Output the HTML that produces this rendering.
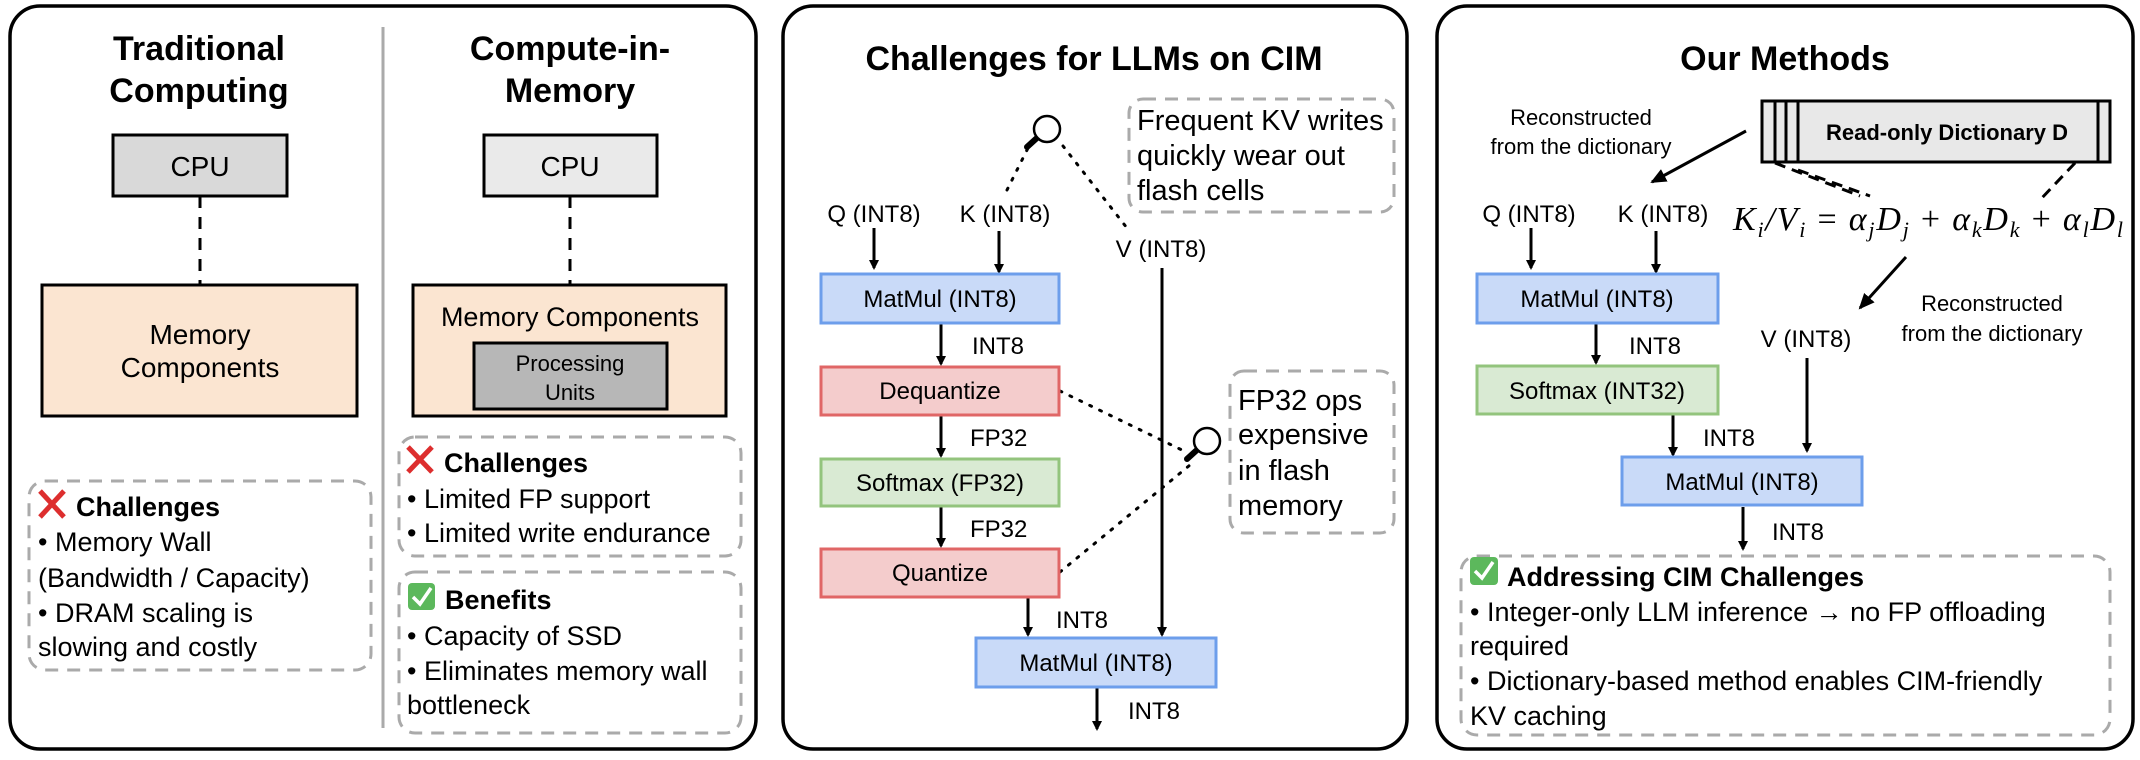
<!DOCTYPE html>
<html><head><meta charset="utf-8"><style>
html,body{margin:0;padding:0;background:#fff;}
svg{display:block;}
text{font-family:"Liberation Sans",Arial,sans-serif;fill:#000;}
.b{font-weight:bold;}
</style></head><body>
<svg width="2140" height="760" viewBox="0 0 2140 760" xmlns="http://www.w3.org/2000/svg">
<defs>
<marker id="ah" markerWidth="10" markerHeight="10" refX="8" refY="5" orient="auto" markerUnits="userSpaceOnUse">
<path d="M0,0 L10,5 L0,10 Z" fill="#000"/></marker>
<marker id="ah2" markerWidth="16" markerHeight="14" refX="14" refY="7" orient="auto" markerUnits="userSpaceOnUse">
<path d="M0,0 L16,7 L0,14 Z" fill="#000"/></marker>
</defs>
<g fill="none" stroke="#000" stroke-width="3.5">
<rect x="10" y="6" width="746" height="743" rx="30"/>
<rect x="783" y="6" width="624" height="743" rx="30"/>
<rect x="1437" y="6" width="696" height="743" rx="30"/>
</g>

<!-- Panel 1 -->
<text class="b" x="199" y="60" font-size="34" text-anchor="middle">Traditional</text>
<text class="b" x="199" y="102" font-size="34" text-anchor="middle">Computing</text>
<text class="b" x="570" y="60" font-size="34" text-anchor="middle">Compute-in-</text>
<text class="b" x="570" y="102" font-size="34" text-anchor="middle">Memory</text>
<line x1="383" y1="27" x2="383" y2="728" stroke="#aaa" stroke-width="3"/>

<rect x="113" y="135" width="174" height="61" fill="#d9d9d9" stroke="#000" stroke-width="3"/>
<text x="200" y="176" font-size="28" text-anchor="middle">CPU</text>
<line x1="200" y1="196" x2="200" y2="285" stroke="#000" stroke-width="3" stroke-dasharray="12,9"/>
<rect x="42" y="285" width="315" height="131" fill="#fbe5d1" stroke="#000" stroke-width="3"/>
<text x="200" y="344" font-size="28" text-anchor="middle">Memory</text>
<text x="200" y="377" font-size="28" text-anchor="middle">Components</text>

<rect x="484" y="135" width="173" height="61" fill="#eaeaea" stroke="#000" stroke-width="3"/>
<text x="570" y="176" font-size="28" text-anchor="middle">CPU</text>
<line x1="570" y1="196" x2="570" y2="285" stroke="#000" stroke-width="3" stroke-dasharray="12,9"/>
<rect x="413" y="285" width="313" height="131" fill="#fbe5d1" stroke="#000" stroke-width="3"/>
<text x="570" y="326" font-size="27" text-anchor="middle">Memory Components</text>
<rect x="474" y="343" width="193" height="66" fill="#b7b7b7" stroke="#000" stroke-width="3"/>
<text x="570" y="371" font-size="22" text-anchor="middle">Processing</text>
<text x="570" y="400" font-size="22" text-anchor="middle">Units</text>

<g fill="none" stroke="#aaa" stroke-width="3" stroke-dasharray="13,9">
<rect x="29" y="481" width="342" height="189" rx="16"/>
<rect x="399" y="437" width="342" height="119" rx="16"/>
<rect x="399" y="572" width="342" height="161" rx="16"/>
<rect x="1461" y="556" width="649" height="179" rx="16"/>
<rect x="1129" y="99" width="265" height="113" rx="14"/>
<rect x="1230" y="371" width="164" height="162" rx="14"/>
</g>

<!-- red X -->
<g stroke="#dd2e2e" stroke-width="5" stroke-linecap="butt">
<line x1="40" y1="491" x2="64" y2="517"/><line x1="64" y1="491" x2="40" y2="517"/>
<line x1="408" y1="447" x2="432" y2="472"/><line x1="432" y1="447" x2="408" y2="472"/>
</g>
<text class="b" x="76" y="516" font-size="27">Challenges</text>
<text x="38" y="551" font-size="27">• Memory Wall</text>
<text x="38" y="587" font-size="27">(Bandwidth / Capacity)</text>
<text x="38" y="622" font-size="27">• DRAM scaling is</text>
<text x="38" y="656" font-size="27">slowing and costly</text>

<text class="b" x="444" y="472" font-size="27">Challenges</text>
<text x="407" y="508" font-size="27">• Limited FP support</text>
<text x="407" y="542" font-size="27">• Limited write endurance</text>

<rect x="408" y="583" width="27" height="27" rx="4" fill="#5cb85c"/>
<path d="M413,597 L420,604 L431,588" fill="none" stroke="#fff" stroke-width="3.5"/>
<text class="b" x="445" y="609" font-size="27">Benefits</text>
<text x="407" y="645" font-size="27">• Capacity of SSD</text>
<text x="407" y="680" font-size="27">• Eliminates memory wall</text>
<text x="407" y="714" font-size="27">bottleneck</text>

<!-- Panel 2 -->
<text class="b" x="1094" y="70" font-size="34" text-anchor="middle">Challenges for LLMs on CIM</text>
<text x="1137" y="130" font-size="29">Frequent KV writes</text>
<text x="1137" y="165" font-size="29">quickly wear out</text>
<text x="1137" y="200" font-size="29">flash cells</text>
<text x="1238" y="410" font-size="29">FP32 ops</text>
<text x="1238" y="444" font-size="29">expensive</text>
<text x="1238" y="480" font-size="29">in flash</text>
<text x="1238" y="515" font-size="29">memory</text>

<g fill="none" stroke="#000" stroke-width="3" stroke-dasharray="2,9" stroke-linecap="round">
<line x1="1007" y1="190" x2="1028" y2="148"/>
<line x1="1063" y1="146" x2="1127" y2="228"/>
<line x1="1060" y1="391" x2="1186" y2="452"/>
<line x1="1060" y1="572" x2="1190" y2="465"/>
</g>
<!-- magnifiers -->
<g stroke="#000" stroke-linecap="round">
<line x1="1038" y1="137" x2="1027" y2="147" stroke-width="6"/>
<line x1="1198" y1="449" x2="1187" y2="459" stroke-width="6"/>
</g>
<g fill="#fff" stroke="#000" stroke-width="2.5">
<circle cx="1047" cy="129" r="13"/>
<circle cx="1207" cy="441" r="13"/>
</g>

<g font-size="24" text-anchor="middle">
<text x="874" y="222">Q (INT8)</text>
<text x="1005" y="222">K (INT8)</text>
<text x="1161" y="257">V (INT8)</text>
</g>
<g stroke="#000" stroke-width="3" marker-end="url(#ah)">
<line x1="874" y1="228" x2="874" y2="268"/>
<line x1="999" y1="231" x2="999" y2="272"/>
<line x1="941" y1="323" x2="941" y2="364"/>
<line x1="941" y1="415" x2="941" y2="456"/>
<line x1="941" y1="506" x2="941" y2="546"/>
<line x1="1028" y1="597" x2="1028" y2="635"/>
<line x1="1162" y1="268" x2="1162" y2="635"/>
<line x1="1097" y1="688" x2="1097" y2="729"/>
</g>
<rect x="821" y="274" width="238" height="49" fill="#c9daf8" stroke="#6d9eeb" stroke-width="3"/>
<text x="940" y="307" font-size="24" text-anchor="middle">MatMul (INT8)</text>
<rect x="821" y="367" width="238" height="48" fill="#f4cccc" stroke="#e06666" stroke-width="3"/>
<text x="940" y="399" font-size="24" text-anchor="middle">Dequantize</text>
<rect x="821" y="459" width="238" height="47" fill="#d9ead3" stroke="#93c47d" stroke-width="3"/>
<text x="940" y="491" font-size="24" text-anchor="middle">Softmax (FP32)</text>
<rect x="821" y="549" width="238" height="48" fill="#f4cccc" stroke="#e06666" stroke-width="3"/>
<text x="940" y="581" font-size="24" text-anchor="middle">Quantize</text>
<rect x="976" y="638" width="240" height="49" fill="#c9daf8" stroke="#6d9eeb" stroke-width="3"/>
<text x="1096" y="671" font-size="24" text-anchor="middle">MatMul (INT8)</text>
<g font-size="24">
<text x="972" y="354">INT8</text>
<text x="970" y="446">FP32</text>
<text x="970" y="537">FP32</text>
<text x="1056" y="628">INT8</text>
<text x="1128" y="719">INT8</text>
</g>

<!-- Panel 3 -->
<text class="b" x="1785" y="70" font-size="34" text-anchor="middle">Our Methods</text>
<g font-size="22" text-anchor="middle">
<text x="1581" y="125">Reconstructed</text>
<text x="1581" y="154">from the dictionary</text>
<text x="1992" y="311">Reconstructed</text>
<text x="1992" y="341">from the dictionary</text>
</g>
<rect x="1762" y="101" width="348" height="61" fill="#e8e8e8" stroke="#000" stroke-width="3"/>
<g stroke="#000" stroke-width="3">
<line x1="1775" y1="101" x2="1775" y2="162"/>
<line x1="1786" y1="101" x2="1786" y2="162"/>
<line x1="1798" y1="101" x2="1798" y2="162"/>
<line x1="2098" y1="101" x2="2098" y2="162"/>
</g>
<text class="b" x="1947" y="140" font-size="22" text-anchor="middle">Read-only Dictionary D</text>
<g stroke="#000" stroke-width="3" stroke-dasharray="11,7">
<line x1="1775" y1="163" x2="1860" y2="196"/>
<line x1="1798" y1="170" x2="1870" y2="196"/>
<line x1="2075" y1="163" x2="2040" y2="200"/>
</g>
<text x="1733" y="230" font-size="34" font-style="italic" style="font-family:'Liberation Serif',serif" textLength="390" lengthAdjust="spacing">K<tspan font-size="22" dy="7">i</tspan><tspan dy="-7">/V</tspan><tspan font-size="22" dy="7">i</tspan><tspan dy="-7" font-style="normal"> = </tspan>α<tspan font-size="22" dy="7">j</tspan><tspan dy="-7">D</tspan><tspan font-size="22" dy="7">j</tspan><tspan dy="-7" font-style="normal"> + </tspan>α<tspan font-size="22" dy="7">k</tspan><tspan dy="-7">D</tspan><tspan font-size="22" dy="7">k</tspan><tspan dy="-7" font-style="normal"> + </tspan>α<tspan font-size="22" dy="7">l</tspan><tspan dy="-7">D</tspan><tspan font-size="22" dy="7">l</tspan></text>

<g stroke="#000" stroke-width="3" marker-end="url(#ah2)">
<line x1="1746" y1="131" x2="1652" y2="182"/>
<line x1="1906" y1="257" x2="1860" y2="308"/>
</g>
<g font-size="24" text-anchor="middle">
<text x="1529" y="222">Q (INT8)</text>
<text x="1663" y="222">K (INT8)</text>
<text x="1806" y="347">V (INT8)</text>
</g>
<g stroke="#000" stroke-width="3" marker-end="url(#ah)">
<line x1="1531" y1="228" x2="1531" y2="268"/>
<line x1="1656" y1="231" x2="1656" y2="272"/>
<line x1="1596" y1="323" x2="1596" y2="363"/>
<line x1="1673" y1="414" x2="1673" y2="455"/>
<line x1="1807" y1="358" x2="1807" y2="451"/>
<line x1="1743" y1="507" x2="1743" y2="549"/>
</g>
<rect x="1477" y="274" width="241" height="49" fill="#c9daf8" stroke="#6d9eeb" stroke-width="3"/>
<text x="1597" y="307" font-size="24" text-anchor="middle">MatMul (INT8)</text>
<rect x="1477" y="366" width="241" height="48" fill="#d9ead3" stroke="#93c47d" stroke-width="3"/>
<text x="1597" y="399" font-size="24" text-anchor="middle">Softmax (INT32)</text>
<rect x="1622" y="457" width="240" height="48" fill="#c9daf8" stroke="#6d9eeb" stroke-width="3"/>
<text x="1742" y="490" font-size="24" text-anchor="middle">MatMul (INT8)</text>
<g font-size="24">
<text x="1629" y="354">INT8</text>
<text x="1703" y="446">INT8</text>
<text x="1772" y="540">INT8</text>
</g>
<rect x="1470" y="557" width="28" height="28" rx="4" fill="#5cb85c"/>
<path d="M1475,571 L1482,578 L1493,562" fill="none" stroke="#fff" stroke-width="3.5"/>
<text class="b" x="1507" y="586" font-size="27">Addressing CIM Challenges</text>
<g font-size="27">
<text x="1470" y="621">• Integer-only LLM inference → no FP offloading</text>
<text x="1470" y="655">required</text>
<text x="1470" y="690">• Dictionary-based method enables CIM-friendly</text>
<text x="1470" y="725">KV caching</text>
</g>
</svg>
</body></html>
